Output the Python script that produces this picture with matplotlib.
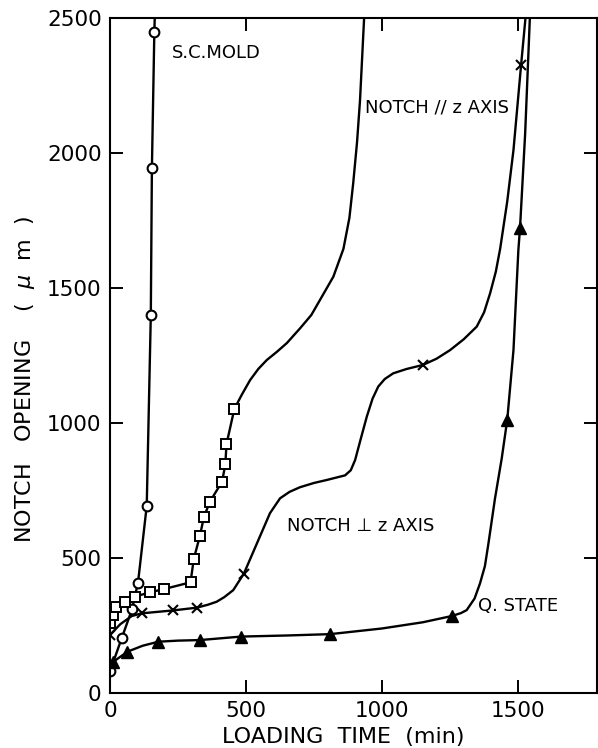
import matplotlib
matplotlib.use("Agg")
import matplotlib.pyplot as plt

# ---- data ----
# S.C. MOLD (open circles)
mold_x = [0, 43, 81, 103, 135, 150, 154, 163]
mold_y = [80, 203, 310, 409, 693, 1400, 1943, 2450]
mold_line_x = [0, 43, 81, 103, 135, 150, 154, 163, 165]
mold_line_y = [80, 203, 310, 409, 693, 1400, 1943, 2450, 2520]

# NOTCH // z AXIS (open squares)
par_x = [0, 12, 22, 55, 92, 147, 199, 296, 308, 330, 345, 367, 412, 424, 428, 457]
par_y = [258, 289, 320, 338, 357, 373, 385, 410, 497, 580, 651, 708, 783, 847, 921, 1052]
par_line_x = [0, 12, 22, 55, 92, 147, 199, 296, 308, 330, 345, 367, 412, 424, 428, 457,
              484, 515, 545, 576, 615, 650, 698, 740, 772, 821, 858, 880, 894, 908, 919, 935]
par_line_y = [258, 289, 320, 338, 357, 373, 385, 410, 497, 580, 651, 708, 783, 847, 921, 1052,
              1104, 1159, 1200, 1233, 1265, 1296, 1350, 1400, 1456, 1542, 1645, 1760, 1889, 2040, 2196, 2520]

# NOTCH perpendicular z AXIS (x marks)
perp_x = [0, 116, 233, 319, 492, 1150, 1511]
perp_y = [215, 295, 306, 316, 442, 1215, 2326]
perp_line_x = [0, 38, 80, 116, 233, 319, 360, 392, 420, 453, 492, 540, 588, 625, 660, 698, 750,
               797, 840, 864, 885, 901, 920, 944, 965, 986, 1010, 1041, 1090, 1150, 1200, 1250,
               1300, 1348, 1375, 1397, 1418, 1434, 1460, 1483, 1511, 1529]
perp_line_y = [215, 255, 285, 295, 306, 316, 327, 338, 355, 381, 442, 554, 666, 721, 745, 762, 778,
               789, 800, 806, 825, 863, 935, 1024, 1090, 1135, 1163, 1184, 1200, 1215, 1238, 1270,
               1310, 1357, 1410, 1480, 1560, 1645, 1820, 2011, 2326, 2520]

# Q. STATE (filled triangles)
q_x = [10, 64, 178, 330, 482, 809, 1256, 1460, 1507]
q_y = [114, 153, 190, 196, 209, 218, 285, 1011, 1721]
q_line_x = [10, 64, 120, 178, 250, 330, 482, 650, 809, 1000, 1150, 1256, 1290, 1311, 1340, 1360,
            1378, 1391, 1415, 1440, 1460, 1483, 1501, 1507, 1526, 1544]
q_line_y = [114, 153, 175, 190, 194, 196, 209, 213, 218, 239, 262, 285, 296, 307, 350, 406,
            470, 554, 720, 870, 1011, 1270, 1641, 1721, 2074, 2520]

labels = ["S.C.MOLD", "NOTCH // z AXIS", "NOTCH \u22a5 z AXIS", "Q. STATE"]
label_x = [228, 937, 650, 1353]
label_y = [2370, 2167, 619, 322]

x_ticks = [0, 500, 1000, 1500]
y_ticks = [0, 500, 1000, 1500, 2000, 2500]

# ---- figure ----
plt.rcParams['font.family'] = ['DejaVu Sans']
fig = plt.figure(figsize=(5.98, 7.48), dpi=100)
ax = fig.add_axes([110 / 598, 55 / 748, 487 / 598, 675 / 748])

lw = 1.7
ax.plot(mold_line_x, mold_line_y, color='black', lw=lw)
ax.plot(mold_x, mold_y, linestyle='none', marker='o', ms=7, mfc='white', mec='black', mew=1.5)

ax.plot(par_line_x, par_line_y, color='black', lw=lw)
ax.plot(par_x, par_y, linestyle='none', marker='s', ms=6.8, mfc='white', mec='black', mew=1.4)

ax.plot(perp_line_x, perp_line_y, color='black', lw=lw)
ax.plot(perp_x, perp_y, linestyle='none', marker='x', ms=7, mec='black', mew=1.5)

ax.plot(q_line_x, q_line_y, color='black', lw=lw)
ax.plot(q_x, q_y, linestyle='none', marker='^', ms=8.5, mfc='black', mec='black')

for t, x, y in zip(labels, label_x, label_y):
    ax.text(x, y, t, ha='left', va='center', fontsize=13)

ax.set_xlim(0, 1790)
ax.set_ylim(0, 2500)
ax.set_xticks(x_ticks)
ax.set_yticks(y_ticks)
ax.tick_params(direction='in', length=9.5, width=1.4, top=True, right=True,
               labelsize=15.5, pad=6)
for s in ax.spines.values():
    s.set_linewidth(1.5)

ax.set_xlabel("LOADING  TIME  (min)", fontsize=16)
ax.xaxis.set_label_coords(0.478, -0.05)
ax.set_ylabel("NOTCH   OPENING    (  $\\mu$  m  )", fontsize=16)
ax.yaxis.set_label_coords(-0.15, 0.464)

fig.savefig("out.png", dpi=100)
